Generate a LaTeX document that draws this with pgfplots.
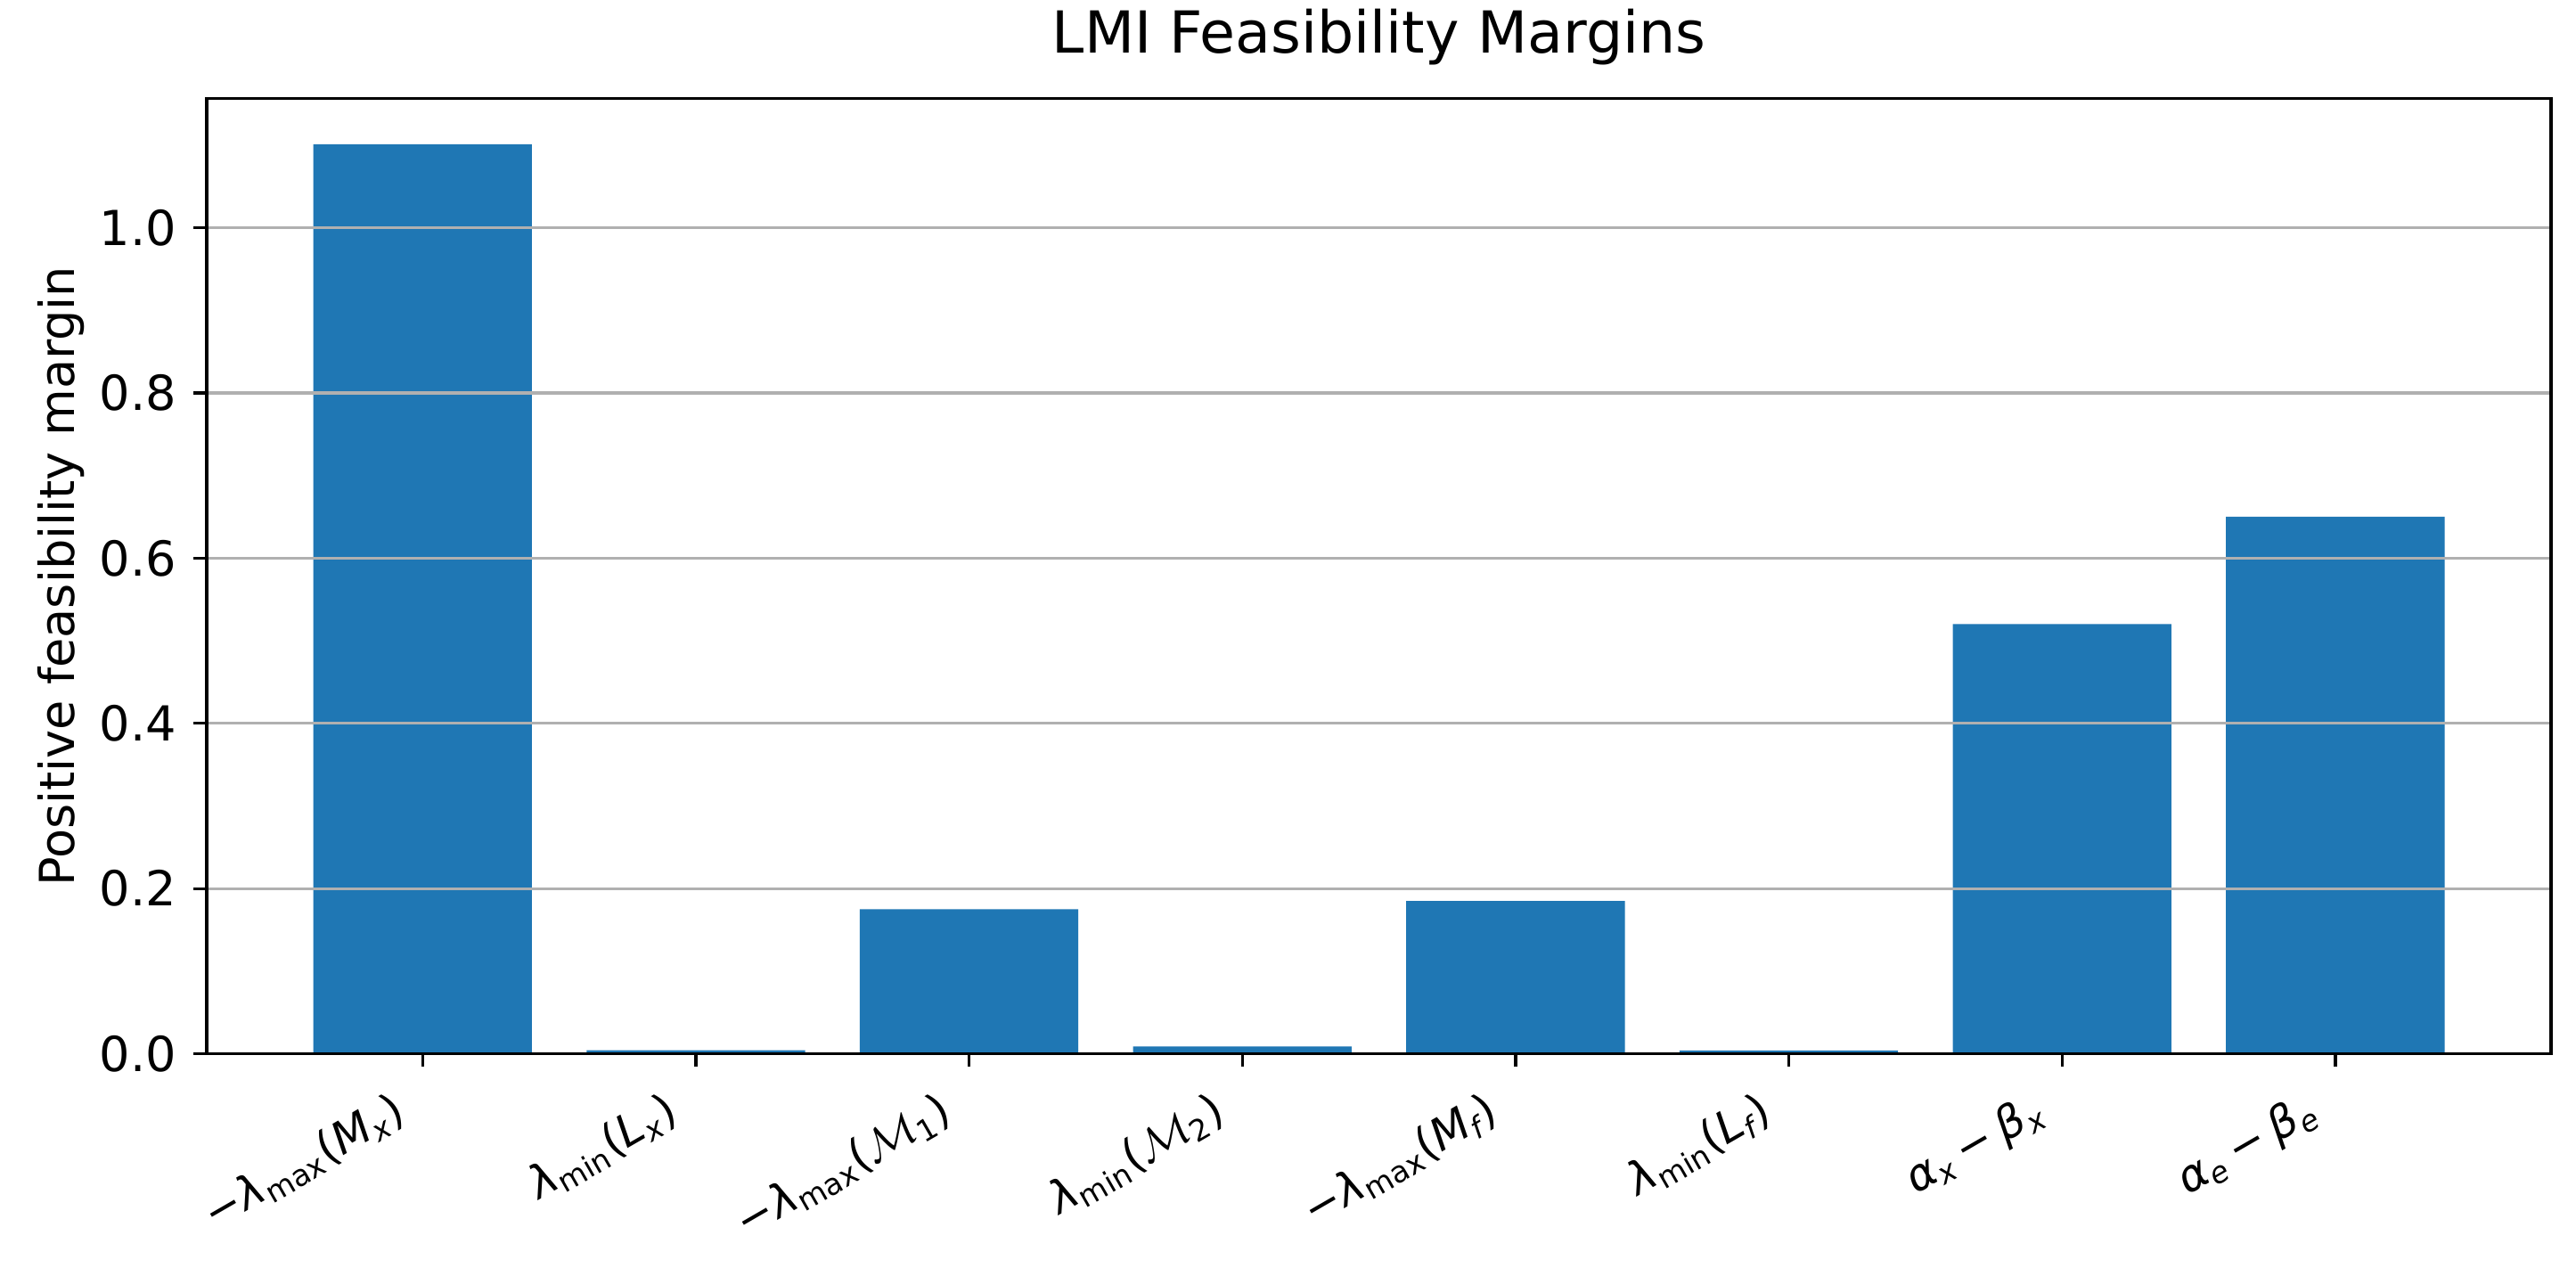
\documentclass[border=0pt]{standalone}
\usepackage{fontspec}
\setmainfont{DejaVu Sans}
\usepackage{pgfplots}
\pgfplotsset{compat=1.18}
\definecolor{c1}{HTML}{1F77B4}
\definecolor{gridc}{HTML}{B0B0B0}
\newcommand{\tfont}{\fontsize{13}{15.6}\selectfont}
\newcommand{\xfont}{\fontsize{12}{14.4}\selectfont}
\newcommand{\bminus}{\hspace{0.195em}−\hspace{0.195em}}
\begin{document}
\begin{tikzpicture}
\begin{axis}[
  at={(0,0)}, anchor=south west,
  scale only axis, width=631.6pt, height=257.3pt,
  xmin=-0.79, xmax=7.79, ymin=0, ymax=1.156,
  ybar, bar width=0.8,
  axis on top,
  axis line style={line width=0.8pt, black},
  major tick length=3.5pt,
  every tick/.style={line width=0.8pt, black},
  tick align=outside,
  xtick pos=left, ytick pos=left,
  xtick={0,1,2,3,4,5,6,7},
  xticklabels={
    {−{\itshape λ}\textsubscript{max}({\itshape M}\textsubscript{\itshape x})},
    {{\itshape λ}\textsubscript{min}({\itshape L}\textsubscript{\itshape x})},
    {−{\itshape λ}\textsubscript{max}($\mathcal{M}$\textsubscript{1})},
    {{\itshape λ}\textsubscript{min}($\mathcal{M}$\textsubscript{2})},
    {−{\itshape λ}\textsubscript{max}({\itshape M}\textsubscript{\itshape f})},
    {{\itshape λ}\textsubscript{min}({\itshape L}\textsubscript{\itshape f})},
    {{\itshape α}\textsubscript{\itshape x}\bminus{\itshape β}\textsubscript{\itshape x}},
    {{\itshape α}\textsubscript{\itshape e}\bminus{\itshape β}\textsubscript{\itshape e}}
  },
  xticklabel style={font=\xfont, inner sep=0pt, xshift=-8.6pt, yshift=-5.8pt, rotate=30, anchor=north east},
  ytick={0,0.2,0.4,0.6,0.8,1.0},
  yticklabels={0.0,0.2,0.4,0.6,0.8,1.0},
  yticklabel style={font=\tfont, inner sep=0pt, anchor=east, xshift=-4.5pt},
  ymajorgrids=true,
  major grid style={line width=0.8pt, gridc},
  title={LMI Feasibility Margins},
  title style={font=\fontsize{15.6}{18.7}\selectfont, at={(axis description cs:0.5,1)}, anchor=base, yshift=6.4pt, inner sep=0pt},
  ylabel={Positive feasibility margin},
  every axis y label/.style={at={(axis description cs:-0.05177,0.5)}, rotate=90, anchor=south, inner sep=0pt, font=\tfont},
]
\addplot[fill=c1, draw=none] coordinates {
  (0,1.101) (1,0.0043) (2,0.175) (3,0.009) (4,0.185) (5,0.004) (6,0.520) (7,0.650)
};
\end{axis}
\pgfresetboundingbox
\useasboundingbox (-55.7pt,-57.6pt) rectangle (638.3pt,283.9pt);
\end{tikzpicture}
\end{document}
